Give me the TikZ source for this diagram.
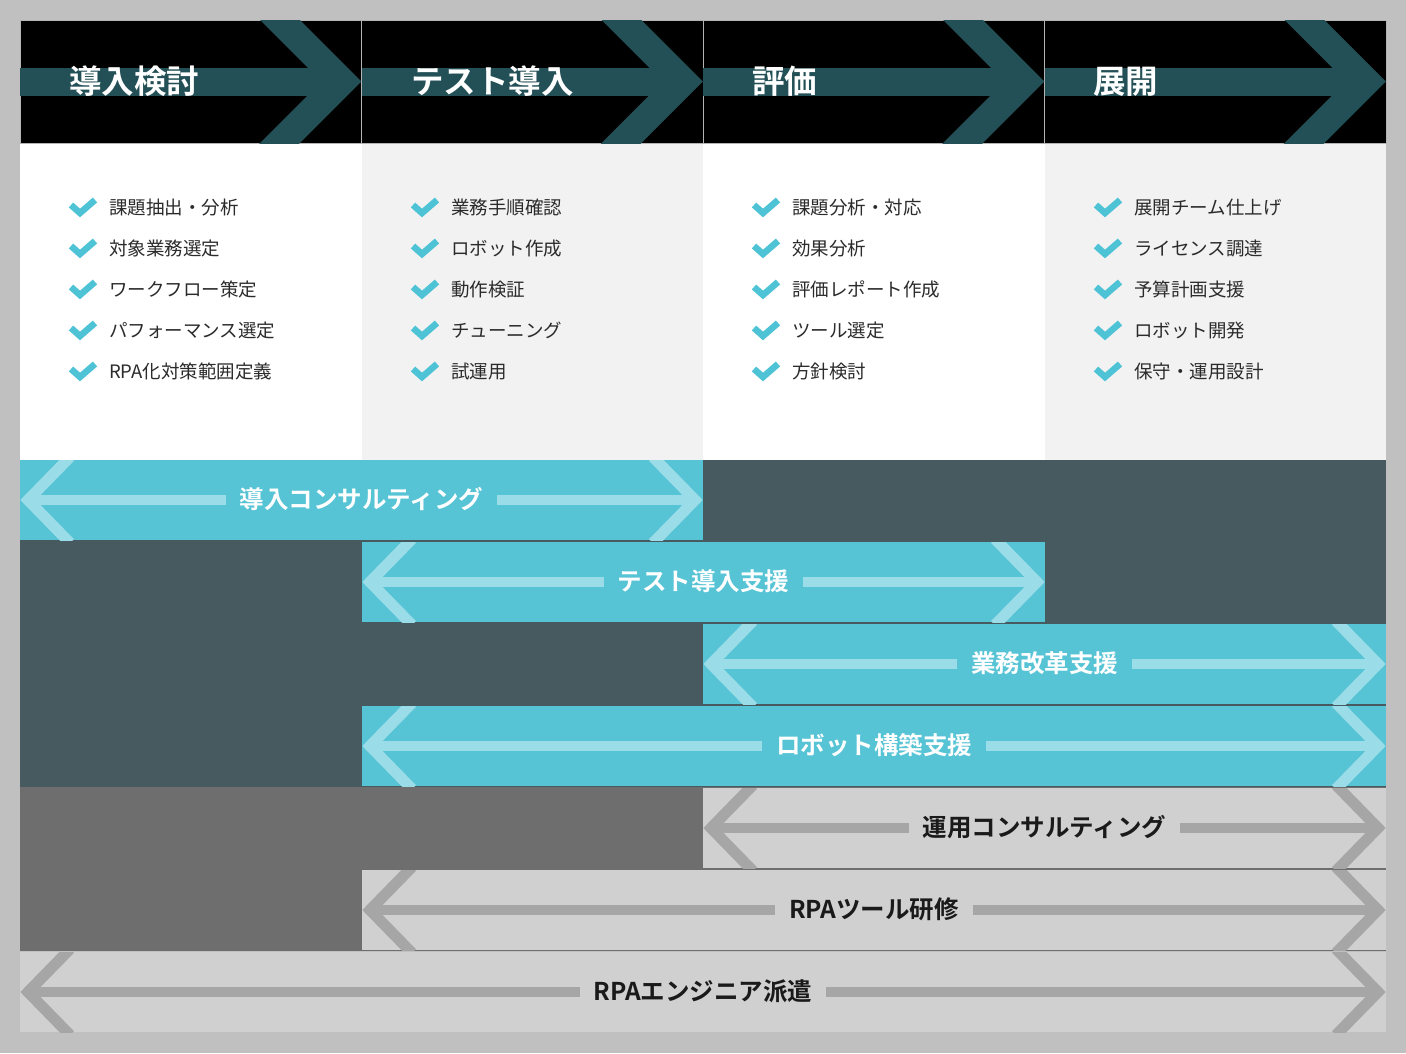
\documentclass[tikz,border=0pt]{standalone}
\usepackage{fontspec}
\setmainfont{Noto Sans CJK JP}[BoldFont={Noto Sans CJK JP Bold}]
\usetikzlibrary{calc}
\definecolor{outerbg}{HTML}{C0C0C0}
\definecolor{headteal}{HTML}{235056}
\definecolor{sepline}{HTML}{B4B4B4}
\definecolor{checkc}{HTML}{4FC3D6}
\definecolor{cyanbar}{HTML}{57C4D5}
\definecolor{cyanarrow}{HTML}{9ADDE8}
\definecolor{slate}{HTML}{475A5F}
\definecolor{midgray}{HTML}{6E6E6E}
\definecolor{graybar}{HTML}{D0D0D0}
\definecolor{grayarrow}{HTML}{A6A6A6}
\definecolor{paleg}{HTML}{F2F2F2}
\definecolor{listtext}{HTML}{2B2B2B}
\definecolor{darklabel}{HTML}{1A1A1A}

\newcommand\servicearrows[2]{%
  \begin{scope}
    \clip (#1.north west) rectangle (#1.south east);
    \draw[#2, line width=10pt] ($(#1.west)+(7,0)$) -- ($(#1.east)+(-7,0)$);
    \draw[#2, line width=11pt, line join=miter] ($(#1.west)+(50,-43)$) -- ($(#1.west)+(8,0)$) -- ($(#1.west)+(50,43)$);
    \draw[#2, line width=11pt, line join=miter] ($(#1.east)+(-50,-43)$) -- ($(#1.east)+(-8,0)$) -- ($(#1.east)+(-50,43)$);
  \end{scope}}

\newcommand\headarrow[1]{%
  \begin{scope}
    \clip (#1.north west) rectangle (#1.south east);
    \draw[headteal, line width=28pt] (#1.west) -- ($(#1.east)+(-20,0)$);
    \draw[headteal, line width=28pt, line join=miter] ($(#1.east)+(-100,-80)$) -- ($(#1.east)+(-20,0)$) -- ($(#1.east)+(-100,80)$);
  \end{scope}}

\begin{document}
\begin{tikzpicture}[x=1pt,y=-1pt,
  headcell/.style={fill=black, draw=sepline, line width=1pt, minimum width=341.5pt, minimum height=123pt, inner sep=0pt, outer sep=0pt},
  headlabel/.style={text=white, font=\bfseries\fontsize{32.5}{32.5}\selectfont, anchor=west, inner sep=0pt, text height=26pt, text depth=2.6pt},
  bodycell/.style={draw=none, minimum width=341.5pt, minimum height=317pt, inner sep=0pt, outer sep=0pt},
  listlabel/.style={text=listtext, font=\fontsize{18.5}{18.5}\selectfont, anchor=west, inner sep=0pt, text height=14.8pt, text depth=1.5pt},
  checkline/.style={draw=checkc, line width=6.5pt, line join=miter},
  barbox/.style={draw=none, minimum height=80pt, inner sep=0pt, outer sep=0pt},
  cyanbox/.style={barbox, fill=cyanbar},
  graybox/.style={barbox, fill=graybar},
  cyanline/.style={draw=cyanarrow},
  grayline/.style={draw=grayarrow},
  barlabel/.style={font=\bfseries\fontsize{24.5}{24.5}\selectfont, inner xsep=14pt, inner ysep=3pt, text height=19.6pt, text depth=2pt},
  cyanlabel/.style={barlabel, fill=cyanbar, text=white},
  graylabel/.style={barlabel, fill=graybar, text=darklabel}
]
\useasboundingbox (0,0) rectangle (1406,1053);
\fill[outerbg] (0,0) rectangle (1406,1053);

% body columns
\node[bodycell, fill=white] (body1) at (190.75,301.5) {};
\node[bodycell, fill=paleg] (body2) at (532.25,301.5) {};
\node[bodycell, fill=white] (body3) at (873.75,301.5) {};
\node[bodycell, fill=paleg] (body4) at (1215.25,301.5) {};

% header cells
\node[headcell] (h1) at (190.75,81.5) {};
\node[headcell] (h2) at (532.25,81.5) {};
\node[headcell] (h3) at (873.75,81.5) {};
\node[headcell] (h4) at (1215.25,81.5) {};
\headarrow{h1}
\headarrow{h2}
\headarrow{h3}
\headarrow{h4}
\node[headlabel] (hl1) at (69,81.5) {導入検討};
\node[headlabel] (hl2) at (411,81.5) {テスト導入};
\node[headlabel] (hl3) at (752,81.5) {評価};
\node[headlabel] (hl4) at (1093,81.5) {展開};

% check lists
\foreach \c/\cx in {1/20,2/362,3/703,4/1045}{
  \foreach \k in {1,...,5}{
    \coordinate (ck-\c-\k) at (\cx+50, 208+41*\k-41);
    \draw[checkline] ($(ck-\c-\k)+(1,-3)$) -- ($(ck-\c-\k)+(10,5)$) -- ($(ck-\c-\k)+(25,-8)$);
  }
}
\foreach \k/\t in {1/課題抽出・分析,2/対象業務選定,3/ワークフロー策定,4/パフォーマンス選定,5/RPA化対策範囲定義}
  \node[listlabel] (li-1-\k) at ($(ck-1-\k)+(39,0)$) {\t};
\foreach \k/\t in {1/業務手順確認,2/ロボット作成,3/動作検証,4/チューニング,5/試運用}
  \node[listlabel] (li-2-\k) at ($(ck-2-\k)+(39,0)$) {\t};
\foreach \k/\t in {1/課題分析・対応,2/効果分析,3/評価レポート作成,4/ツール選定,5/方針検討}
  \node[listlabel] (li-3-\k) at ($(ck-3-\k)+(39,0)$) {\t};
\foreach \k/\t in {1/展開チーム仕上げ,2/ライセンス調達,3/予算計画支援,4/ロボット開発,5/保守・運用設計}
  \node[listlabel] (li-4-\k) at ($(ck-4-\k)+(39,0)$) {\t};

% bar area backgrounds
\fill[slate] (20,460) rectangle (1386,787);
\fill[midgray] (20,787) rectangle (1386,951);

% service bars
\node[cyanbox, minimum width=683pt] (b1) at (361.5,500) {};
\servicearrows{b1}{cyanline}
\node[cyanlabel] (t1) at (b1) {導入コンサルティング};

\node[cyanbox, minimum width=683pt] (b2) at (703.5,582) {};
\servicearrows{b2}{cyanline}
\node[cyanlabel] (t2) at (b2) {テスト導入支援};

\node[cyanbox, minimum width=683pt] (b3) at (1044.5,664) {};
\servicearrows{b3}{cyanline}
\node[cyanlabel] (t3) at (b3) {業務改革支援};

\node[cyanbox, minimum width=1024pt] (b4) at (874,746) {};
\servicearrows{b4}{cyanline}
\node[cyanlabel] (t4) at (b4) {ロボット構築支援};

\node[graybox, minimum width=683pt] (b5) at (1044.5,828) {};
\servicearrows{b5}{grayline}
\node[graylabel] (t5) at (b5) {運用コンサルティング};

\node[graybox, minimum width=1024pt] (b6) at (874,910) {};
\servicearrows{b6}{grayline}
\node[graylabel] (t6) at (b6) {RPAツール研修};

\node[graybox, minimum width=1366pt] (b7) at (703,992) {};
\servicearrows{b7}{grayline}
\node[graylabel] (t7) at (b7) {RPAエンジニア派遣};
\end{tikzpicture}
\end{document}
